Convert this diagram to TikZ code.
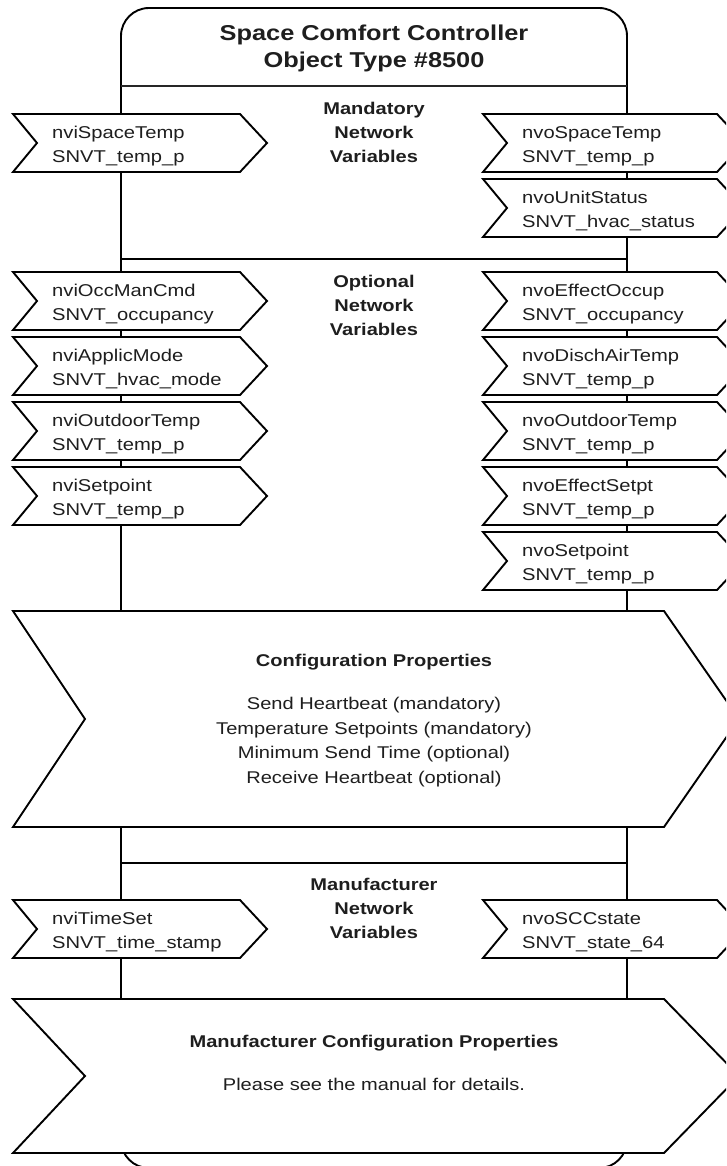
\documentclass[tikz,border=0pt]{standalone}
\usepackage{fontspec}
\setmainfont{Liberation Sans}[FakeStretch=1.18]
\usetikzlibrary{calc}
\definecolor{txt}{HTML}{1E1E1E}
\tikzset{
  outline/.style={draw=black, line width=1.9pt, fill=white, line join=miter},
  frame/.style={draw=black, line width=1.9pt},
  thicksep/.style={draw=black, line width=2.6pt},
  thinsep/.style={draw=black!85, line width=1.4pt},
  nvtext/.style={anchor=west, align=left, inner sep=0pt, font=\fontsize{17.1}{24}\selectfont, text=txt},
  seclabel/.style={align=center, inner sep=0pt, font=\bfseries\fontsize{17.0}{24}\selectfont, text=txt},
  titlelabel/.style={align=center, inner sep=0pt, font=\bfseries\fontsize{21.5}{27}\selectfont, text=txt},
  cptext/.style={align=center, inner sep=0pt, font=\fontsize{17.0}{24.7}\selectfont, text=txt},
}
\newcommand\nvbox[6]{%
  \draw[outline] (#2,#3) -- ++(#4,0) -- ++(27,29) -- ++(-27,29) -- ++(-#4,0) -- ++(24,-29) -- cycle;
  \node[nvtext] (#1) at (#2+39,#3+31.5) {\strut #5\\#6\strut};
}
\begin{document}
\begin{tikzpicture}[x=1pt,y=-1pt]
\useasboundingbox (0,0) rectangle (726,1166);
\clip (0,0) rectangle (726,1166);
% main frame
\draw[frame, rounded corners=28pt] (121,8) rectangle (627,1168);
\draw[thinsep] (121,86) -- (627,86);
\draw[thicksep] (121,259) -- (627,259);
\draw[thicksep] (121,863) -- (627,863);
% title
\node[titlelabel] (title) at (374,48) {Space Comfort Controller\\Object Type \#8500};
% mandatory
\node[seclabel] (mand) at (374,133.3) {\strut Mandatory\\Network\\Variables\strut};
\nvbox{nviSpaceTemp}{13}{114}{227}{nviSpaceTemp}{SNVT\_temp\_p}
\nvbox{nvoSpaceTemp}{483}{114}{234}{nvoSpaceTemp}{SNVT\_temp\_p}
\nvbox{nvoUnitStatus}{483}{179}{234}{nvoUnitStatus}{SNVT\_hvac\_status}
% optional
\node[seclabel] (opt) at (374,307) {\strut Optional\\Network\\Variables\strut};
\nvbox{nviOccManCmd}{13}{272}{227}{nviOccManCmd}{SNVT\_occupancy}
\nvbox{nviApplicMode}{13}{337}{227}{nviApplicMode}{SNVT\_hvac\_mode}
\nvbox{nviOutdoorTemp}{13}{402}{227}{nviOutdoorTemp}{SNVT\_temp\_p}
\nvbox{nviSetpoint}{13}{467}{227}{nviSetpoint}{SNVT\_temp\_p}
\nvbox{nvoEffectOccup}{483}{272}{234}{nvoEffectOccup}{SNVT\_occupancy}
\nvbox{nvoDischAirTemp}{483}{337}{234}{nvoDischAirTemp}{SNVT\_temp\_p}
\nvbox{nvoOutdoorTemp}{483}{402}{234}{nvoOutdoorTemp}{SNVT\_temp\_p}
\nvbox{nvoEffectSetpt}{483}{467}{234}{nvoEffectSetpt}{SNVT\_temp\_p}
\nvbox{nvoSetpoint}{483}{532}{234}{nvoSetpoint}{SNVT\_temp\_p}
% configuration properties
\draw[outline] (13,611) -- (664,611) -- (739,719) -- (664,827) -- (13,827) -- (85,719) -- cycle;
\node[seclabel] (cfghead) at (374,662) {Configuration Properties};
\node[cptext] (cfglist) at (374,741.5) {\strut Send Heartbeat (mandatory)\\Temperature Setpoints (mandatory)\\Minimum Send Time (optional)\\Receive Heartbeat (optional)\strut};
% manufacturer
\node[seclabel] (manu) at (374,910) {\strut Manufacturer\\Network\\Variables\strut};
\nvbox{nviTimeSet}{13}{900}{227}{nviTimeSet}{SNVT\_time\_stamp}
\nvbox{nvoSCCstate}{483}{900}{234}{nvoSCCstate}{SNVT\_state\_64}
\draw[outline] (13,999) -- (664,999) -- (739,1076) -- (664,1153) -- (13,1153) -- (85,1076) -- cycle;
\node[seclabel] (mcphead) at (374,1043) {Manufacturer Configuration Properties};
\node[cptext] (mcptext) at (374,1084) {Please see the manual for details.};
\end{tikzpicture}
\end{document}
